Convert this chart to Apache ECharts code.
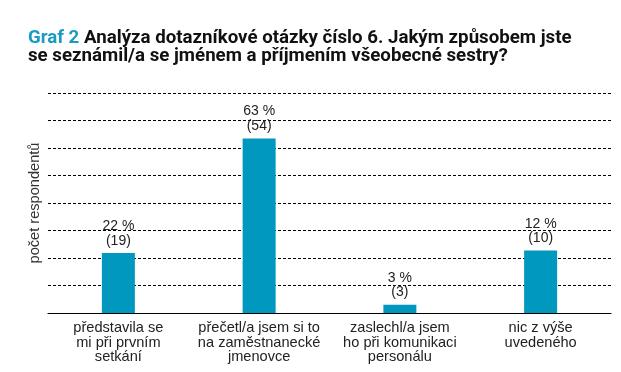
<!DOCTYPE html>
<html>
<head>
<meta charset="utf-8">
<script src="https://cdn.jsdelivr.net/npm/echarts@6/dist/echarts.min.js"></script>
<style>
html,body{margin:0;padding:0;background:#fff;}
#chart{width:621px;height:372px;}
</style>
</head>
<body>
<div id="chart"></div>
<script>
// Data
var categories = [
  "představila se\nmi při prvním\nsetkání",
  "přečetl/a jsem si to\nna zaměstnanecké\njmenovce",
  "zaslechl/a jsem\nho při komunikaci\npersonálu",
  "nic z výše\nuvedeného"
];
// bar heights as drawn (percent axis)
var barHeights = [21.8, 63.5, 3.0, 22.7];
// printed labels
var percentLabels = [22, 63, 3, 12];
var countLabels = [19, 54, 3, 10];
var yMin = 0, yMax = 80, yInterval = 10;

var titleLead = "Graf 2";
var titleLine1 = " Analýza dotazníkové otázky číslo 6. Jakým způsobem jste";
var titleLine2 = "se seznámil/a se jménem a příjmením všeobecné sestry?";
var yAxisName = "počet respondentů";

var chart = echarts.init(document.getElementById('chart'), null, {renderer: 'canvas'});
var FONT = "'Liberation Sans', Arial, sans-serif";
chart.setOption({
  animation: false,
  backgroundColor: '#ffffff',
  title: {
    text: '{a|' + titleLead + '}{b|' + titleLine1 + '}\n{b|' + titleLine2 + '}',
    left: 23,
    top: 24,
    textStyle: {
      rich: {
        a: {fontFamily: "Roboto, " + FONT, fontWeight: 'bold', fontSize: 18.7, color: '#1a9cc2', lineHeight: 18.5},
        b: {fontFamily: "Roboto, " + FONT, fontWeight: 'bold', fontSize: 18.7, color: '#111111', lineHeight: 18.5}
      }
    }
  },
  grid: {left: 48, right: 10, top: 93, bottom: 59, containLabel: false},
  xAxis: {
    type: 'category',
    data: categories,
    axisLine: {show: true, lineStyle: {color: '#000', width: 1.2}},
    axisTick: {show: false},
    axisLabel: {
      interval: 0,
      margin: 8,
      fontFamily: FONT,
      fontSize: 14.6,
      lineHeight: 14.5,
      color: '#222',
      align: 'center'
    },
    splitLine: {show: false}
  },
  yAxis: {
    type: 'value',
    min: yMin, max: yMax, interval: yInterval,
    name: yAxisName,
    nameLocation: 'middle',
    nameGap: 6,
    nameRotate: 90,
    nameTextStyle: {fontFamily: FONT, fontSize: 14.6, color: '#333'},
    axisLine: {show: false},
    axisTick: {show: false},
    axisLabel: {show: false},
    splitLine: {show: true, lineStyle: {color: '#000', width: 1, type: [3, 2]}}
  },
  series: [{
    type: 'bar',
    data: barHeights,
    barWidth: 33,
    itemStyle: {color: '#0098be'},
    label: {
      show: true,
      position: 'top',
      distance: 5,
      fontFamily: FONT,
      fontSize: 14,
      lineHeight: 14.5,
      color: '#222',
      formatter: function (p) {
        return percentLabels[p.dataIndex] + ' %\n(' + countLabels[p.dataIndex] + ')';
      }
    }
  }]
});
</script>
</body>
</html>
